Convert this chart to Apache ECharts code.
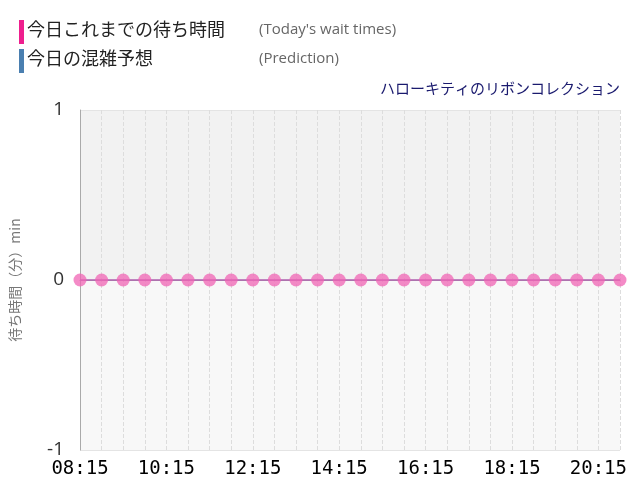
<!DOCTYPE html>
<html>
<head>
<meta charset="utf-8">
<script src="https://cdn.jsdelivr.net/npm/echarts@6/dist/echarts.min.js"></script>
<style>body{margin:0}#chart{width:640px;height:500px}</style>
</head>
<body>
<div id="chart"></div>
<script>
const times = ['08:15','08:45','09:15','09:45','10:15','10:45','11:15','11:45','12:15','12:45','13:15','13:45','14:15','14:45','15:15','15:45','16:15','16:45','17:15','17:45','18:15','18:45','19:15','19:45','20:15','20:45'];
const waitTimes = [0,0,0,0,0,0,0,0,0,0,0,0,0,0,0,0,0,0,0,0,0,0,0,0,0,0];

const chart = echarts.init(document.getElementById('chart'));
const jp = '"Noto Sans CJK JP", sans-serif';

chart.setOption({
  animation: false,
  grid: {left: 80, right: 20, top: 110, bottom: 50},
  graphic: [
    {type: 'rect', left: 19, top: 20, shape: {width: 5, height: 24}, style: {fill: '#ee1f8e'}},
    {type: 'text', left: 27, top: 20, style: {text: '今日これまでの待ち時間', font: '18px ' + jp, fill: '#222'}},
    {type: 'text', left: 259, top: 22, style: {text: "(Today's wait times)", font: '15px "Open Sans", sans-serif', fill: '#666'}},
    {type: 'rect', left: 19, top: 49, shape: {width: 5, height: 24}, style: {fill: '#4a7fb0'}},
    {type: 'text', left: 27, top: 49, style: {text: '今日の混雑予想', font: '18px ' + jp, fill: '#222'}},
    {type: 'text', left: 259, top: 51, style: {text: '(Prediction)', font: '15px "Open Sans", sans-serif', fill: '#666'}},
    {type: 'text', right: 20, top: 81, style: {text: 'ハローキティのリボンコレクション', font: '15px ' + jp, fill: '#1a1a6e'}},
    {type: 'text', right: 30, top: 401, style: {text: "Hello Kitty's Ribbon Collection", font: '14px "DejaVu Sans", sans-serif', fill: '#1a1a6e'}},
    {type: 'text', right: 30, top: 422, style: {text: 'https://usjreal.asumirai.info', font: '14px "DejaVu Sans", sans-serif', fill: '#666'}}
  ],
  xAxis: {
    type: 'category',
    data: times,
    boundaryGap: false,
    axisLine: {lineStyle: {color: '#aaa'}},
    axisTick: {show: false},
    axisLabel: {interval: 3, color: '#000', fontSize: 19, fontFamily: '"DejaVu Sans Mono", monospace', margin: 10},
    splitLine: {show: true, interval: 0, lineStyle: {color: '#ddd', type: 'dashed'}}
  },
  yAxis: {
    type: 'value',
    min: -1, max: 1, interval: 1,
    name: '待ち時間（分）min',
    nameLocation: 'middle',
    nameGap: 58,
    nameTextStyle: {color: '#777', fontSize: 14, fontFamily: jp},
    axisLine: {show: true, lineStyle: {color: '#aaa'}},
    axisTick: {show: false},
    axisLabel: {color: '#333', fontSize: 19, fontFamily: '"Open Sans", sans-serif', margin: 16},
    splitLine: {lineStyle: {color: '#e4e4e4'}},
    splitArea: {show: true, areaStyle: {color: ['#f8f8f8', '#f2f2f2']}}
  },
  series: [{
    type: 'line',
    data: waitTimes,
    symbol: 'circle',
    symbolSize: 13,
    lineStyle: {color: '#b060b0', width: 1.5},
    itemStyle: {color: 'rgba(240,100,180,0.75)', borderWidth: 0}
  }]
});
</script>
</body>
</html>
